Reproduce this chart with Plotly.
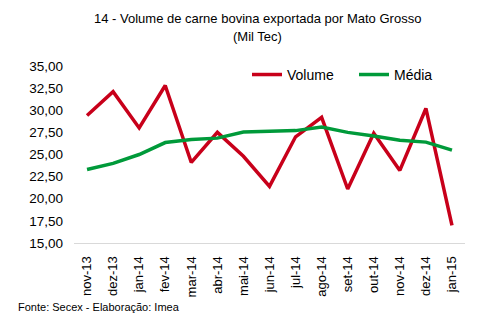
import plotly.graph_objects as go

meses = ["nov-13", "dez-13", "jan-14", "fev-14", "mar-14", "abr-14", "mai-14",
         "jun-14", "jul-14", "ago-14", "set-14", "out-14", "nov-14", "dez-14", "jan-15"]
volume = [29.4, 32.1, 28.0, 32.8, 24.1, 27.5, 24.8, 21.4, 27.0, 29.2, 21.1, 27.4, 23.2, 30.2, 17.0]
media = [23.3, 24.0, 25.0, 26.35, 26.7, 26.85, 27.55, 27.6, 27.7, 28.1, 27.5, 27.1, 26.6, 26.4, 25.5]
yticks = [15, 17.5, 20, 22.5, 25, 27.5, 30, 32.5, 35]

FONT = "Liberation Sans, Arial, sans-serif"
L, R, T, B = 74, 21, 66, 80
PW, PH = 486 - L - R, 323 - T - B


def px(xp):
    return (xp - L) / PW


def py(yp):
    return (323 - B - yp) / PH


fig = go.Figure()
fig.add_trace(go.Scatter(x=meses, y=volume, mode="lines", name="Volume",
                         line=dict(color="#C8001A", width=3.5)))
fig.add_trace(go.Scatter(x=meses, y=media, mode="lines", name="Média",
                         line=dict(color="#009A3A", width=3.5)))

fig.update_layout(
    width=486, height=323,
    margin=dict(l=L, r=R, t=T, b=B),
    paper_bgcolor="white", plot_bgcolor="white",
    separators=",.",
    font=dict(family=FONT, color="black"),
    showlegend=True,
    legend=dict(orientation="h", x=px(247), xanchor="left", y=1.04, yanchor="top",
                font=dict(size=14, family=FONT, color="black"),
                bgcolor="rgba(0,0,0,0)", entrywidth=62, entrywidthmode="pixels",
                tracegroupgap=0),
    xaxis=dict(type="category", tickangle=-90, tickfont=dict(size=13, family=FONT),
               showline=True, linecolor="#D9D9D9", linewidth=1, showgrid=False,
               ticks="", ticklabelstandoff=7, range=[-0.5, 14.5]),
    yaxis=dict(range=[15, 35], tickvals=yticks, tickformat=".2f",
               tickfont=dict(size=13.5, family=FONT), showgrid=False,
               zeroline=False, showline=False, ticks="", ticklabelstandoff=10),
    annotations=[
        dict(text="14 - Volume de carne bovina exportada por Mato Grosso", xref="paper", yref="paper",
             x=px(257), y=py(19), xanchor="center", yanchor="middle",
             showarrow=False, font=dict(size=13, family=FONT, color="black")),
        dict(text="(Mil Tec)", xref="paper", yref="paper",
             x=px(257), y=py(36), xanchor="center", yanchor="middle",
             showarrow=False, font=dict(size=13, family=FONT, color="black")),
        dict(text="Fonte: Secex - Elaboração: Imea", xref="paper", yref="paper",
             x=px(16), y=py(307), xanchor="left", yanchor="middle",
             showarrow=False, font=dict(size=11, family=FONT, color="black")),
    ],
)

fig.write_html("out.html")
